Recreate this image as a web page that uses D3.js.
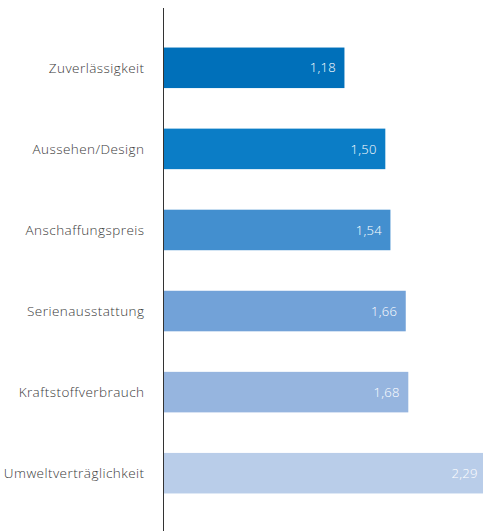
<!DOCTYPE html>
<html><head><meta charset="utf-8">
<script src="https://cdn.jsdelivr.net/npm/d3@7"></script>
<style>
html,body{margin:0;padding:0;background:#fff;overflow:hidden}
svg{display:block}
text{font-family:"Open Sans",Roboto,sans-serif;font-weight:300}
</style></head>
<body>
<svg id="chart" width="483" height="531"></svg>
<script>
const categories = ["Zuverlässigkeit","Aussehen/Design","Anschaffungspreis","Serienausstattung","Kraftstoffverbrauch","Umweltverträglichkeit"];
const values = [1.18, 1.50, 1.54, 1.66, 1.68, 2.29];
const colors = ["#0070ba","#0b7dc6","#438fcf","#72a2d8","#96b5df","#b9cde9"];

const W = 483, H = 531;
const axisX = 163.5;
const svg = d3.select("#chart");

const x = d3.scaleLinear().domain([-0.237, 2.3]).range([axisX, axisX + 127.7*2.537]);
const y = d3.scaleBand().domain(categories).range([7, 534]).paddingInner(0.5).paddingOuter(0.5);
const fmt = v => d3.format(".2f")(v).replace(".", ",");

const data = categories.map((c,i) => ({c, v: values[i], col: colors[i]}));

svg.selectAll("rect.bar").data(data).join("rect")
  .attr("class","bar")
  .attr("x", axisX)
  .attr("y", d => y(d.c))
  .attr("width", d => x(d.v) - axisX)
  .attr("height", y.bandwidth())
  .attr("fill", d => d.col);

svg.selectAll("text.val").data(data).join("text")
  .attr("class","val")
  .attr("x", d => x(d.v) - 8.5)
  .attr("y", d => y(d.c) + y.bandwidth()/2)
  .attr("dy","0.36em")
  .attr("text-anchor","end")
  .attr("fill","#fff")
  .attr("font-size", 13)
  .style("letter-spacing","0.3px")
  .text(d => fmt(d.v));

const yAxis = d3.axisLeft(y).tickSize(0).tickPadding(19);
const g = svg.append("g").attr("transform", `translate(${axisX},0)`).call(yAxis);
g.select(".domain").remove();
g.selectAll(".tick text").attr("fill","#3a3a3a").attr("font-size",13.5)
  .attr("dy","0.38em")
  .style("font-family","'Open Sans', Roboto, sans-serif").style("font-weight",300)
  .style("letter-spacing","0.45px");

svg.append("line")
  .attr("x1", axisX).attr("x2", axisX)
  .attr("y1", 8).attr("y2", H)
  .attr("stroke","#333").attr("stroke-width",1);
</script>
</body></html>
